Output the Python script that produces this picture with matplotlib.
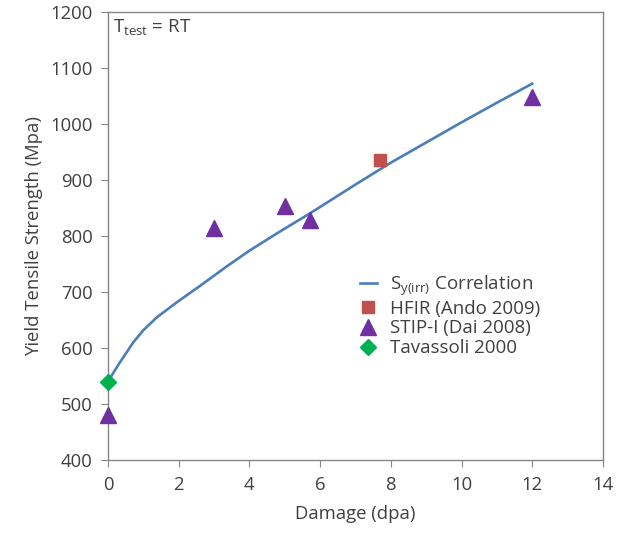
import matplotlib
matplotlib.use('Agg')
import matplotlib.pyplot as plt

plt.rcParams['font.family'] = ['Open Sans', 'DejaVu Sans']

# correlation curve
curve_x = [0, 0.17, 0.34, 0.71, 1.0, 1.38, 1.95, 2.6, 3.36, 4.0, 4.86, 5.62, 6.0, 7.0, 8.0, 9.0, 10.0, 11.0, 12.0]
curve_y = [540, 558, 575, 610, 632, 655, 682, 711, 746, 774, 808, 837, 852, 892, 931, 967, 1003, 1038, 1072]

hfir_x = [7.7]
hfir_y = [935]

stip_x = [0, 3, 5, 5.7, 12]
stip_y = [481, 814, 854, 829, 1048]

tav_x = [0]
tav_y = [540]

gray = '#868686'
txt = '#404040'

fig = plt.figure(figsize=(6.19, 5.44), dpi=100)
ax = fig.add_axes([0.1745, 0.154, 0.7995, 0.824])

ax.plot(curve_x, curve_y, color='#4A7EBB', lw=1.9, label=r'S$_\mathregular{y(irr)}$ Correlation', zorder=2)
ax.plot(hfir_x, hfir_y, 's', color='#C0504D', ms=9, label='HFIR (Ando 2009)', zorder=3)
ax.plot(stip_x, stip_y, '^', color='#7030A0', ms=11, label='STIP-I (Dai 2008)', zorder=3, clip_on=False)
ax.plot(tav_x, tav_y, 'D', color='#00B050', ms=8.5, label='Tavassoli 2000', zorder=4, clip_on=False)

ax.set_xlim(0, 14)
ax.set_ylim(400, 1200)
ax.set_xticks(range(0, 15, 2))
ax.set_yticks(range(400, 1201, 100))

for s in ax.spines.values():
    s.set_color(gray)
    s.set_linewidth(1.0)
ax.tick_params(direction='out', length=5, color=gray, labelsize=13.3, labelcolor=txt, pad=6)

ax.set_xlabel('Damage (dpa)', fontsize=13.3, color=txt, labelpad=8)
ax.set_ylabel('Yield Tensile Strength (Mpa)', fontsize=13.3, color=txt, labelpad=5)

ax.text(0.01, 0.988, r'T$_\mathregular{test}$ = RT', transform=ax.transAxes,
        ha='left', va='top', fontsize=13.5, color=txt)

leg = ax.legend(loc='upper left', bbox_to_anchor=(0.475, 0.455), frameon=False,
                fontsize=13.5, handlelength=0.9, handletextpad=0.7, labelspacing=0.1,
                numpoints=1)
for t in leg.get_texts():
    t.set_color(txt)

fig.savefig('out.png', dpi=100)
